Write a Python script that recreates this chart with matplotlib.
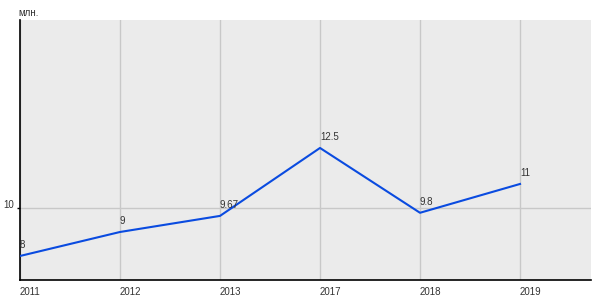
import matplotlib
matplotlib.use("Agg")
import matplotlib.pyplot as plt

years = ["2011", "2012", "2013", "2017", "2018", "2019"]
values = [8, 9, 9.67, 12.5, 9.8, 11]
labels = ["8", "9", "9.67", "12.5", "9.8", "11"]
yticks = [10]
unit = "млн."

plt.rcParams['font.family'] = ['Liberation Sans', 'DejaVu Sans']
fig = plt.figure(figsize=(6, 3), dpi=100)
ax = fig.add_axes([20/600, 20/300, 571/600, 260/300])
ax.set_facecolor('#ebebeb')
x = list(range(len(years)))
ax.plot(x, values, color='#0a4be0', lw=1.5, zorder=3)
for xi, v, t in zip(x, values, labels):
    ax.annotate(t, (xi, v), xytext=(0, 4), textcoords='offset points',
                ha='left', va='bottom', fontsize=7, color='#333333', zorder=4)
ax.set_xlim(0, 5.71)
ax.set_ylim(7, 17.83)
ax.set_xticks(x)
ax.set_xticklabels(years, ha='left', fontsize=7, color='#333333')
ax.set_yticks(yticks)
ax.set_yticklabels([str(t) for t in yticks], fontsize=7, color='#333333', va='baseline')
ax.grid(True, color='#c8c8c8', lw=1)
ax.tick_params(axis='x', length=0, pad=5)
ax.tick_params(axis='y', length=2.5, width=1, pad=2)
for s in ['top', 'right']:
    ax.spines[s].set_visible(False)
for s in ['left', 'bottom']:
    ax.spines[s].set_color('black')
    ax.spines[s].set_linewidth(1.2)
fig.text(18/600, 1 - 13/300, unit, fontsize=7, color='#333333', va='center', ha='left')
fig.savefig('out.png', dpi=100)
